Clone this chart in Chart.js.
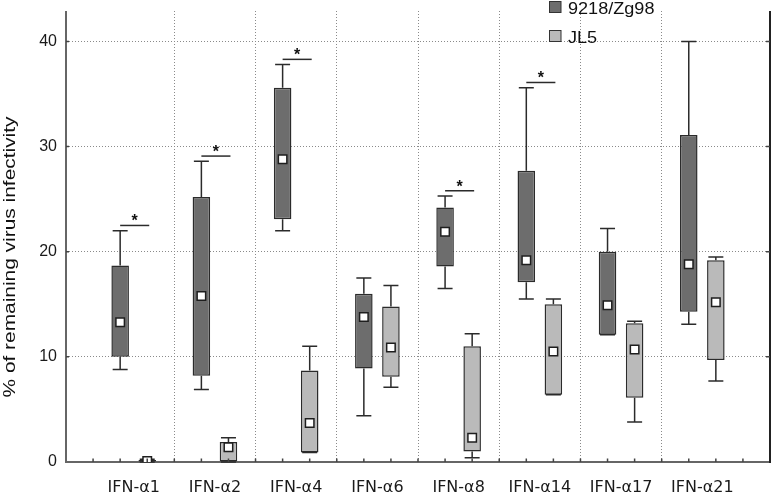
<!DOCTYPE html>
<html>
<head>
<meta charset="utf-8">
<script src="https://cdn.jsdelivr.net/npm/chart.js@4.4.1/dist/chart.umd.min.js"></script>
<style>
  html, body { margin: 0; padding: 0; background: #fff; }
  #wrap { width: 771px; height: 494px; }
</style>
</head>
<body>
<div id="wrap"><canvas id="boxChart" width="771" height="494"></canvas></div>
<script>
// Box plot data: % of remaining virus infectivity per IFN-alpha subtype

const categories = ['IFN-α1', 'IFN-α2', 'IFN-α4', 'IFN-α6', 'IFN-α8', 'IFN-α14', 'IFN-α17', 'IFN-α21'];

// 9218/Zg98
const zgMin  = [8.8, 6.9, 22.0, 4.4, 16.5, 15.5, 12.1, 13.1];
const zgQ1   = [10.0, 8.2, 23.1, 8.9, 18.6, 17.1, 12.1, 14.3];
const zgMean = [13.3, 15.8, 28.8, 13.8, 21.9, 19.2, 14.9, 18.8];
const zgQ3   = [18.7, 25.2, 35.6, 16.0, 24.2, 27.7, 20.0, 31.1];
const zgMax  = [22.0, 28.6, 37.8, 17.5, 25.3, 35.6, 22.2, 40.0];

// JL5
const jlMin  = [0, 0, 0.9, 7.1, 0.4, 6.4, 3.8, 7.7];
const jlQ1   = [0, 0, 0.9, 8.1, 1.0, 6.4, 6.1, 9.7];
const jlMean = [0.1, 1.4, 3.7, 10.9, 2.3, 10.5, 10.7, 15.2];
const jlQ3   = [0.2, 1.9, 8.7, 14.8, 11.0, 15.0, 13.2, 19.2];
const jlMax  = [0.25, 2.3, 11.0, 16.8, 12.2, 15.5, 13.4, 19.5];

// * = significant difference between the two strains
const significant = [true, true, true, false, true, true, false, false];

const yTicks = [0, 10, 20, 30, 40];
const seriesNames = ['9218/Zg98', 'JL5'];
const yTitle = '% of remaining virus infectivity';

const darkFill = '#6d6d6d';
const lightFill = '#bababa';
const lineCol = '#2b2b2b';

// each category takes 3 slots on the x axis: boundary, 9218/Zg98, JL5
const zgSlot = i => 3 * i + 2;
const jlSlot = i => 3 * i + 3;

let xTickValues = [];
categories.forEach((c, i) => { xTickValues.push(3 * i + 1, 3 * i + 2.5); });
xTickValues.push(3 * categories.length + 1);

const isGridSlot = v => v > 1 && v < 3 * categories.length + 1 && (v - 1) % 3 === 0;

const boxExtras = {
    id: 'boxExtras',
    beforeDatasetsDraw(chart) {
        const {ctx, chartArea, scales: {x, y}} = chart;
        ctx.save();

        // left and bottom axis lines
        ctx.strokeStyle = '#666';
        ctx.lineWidth = 2;
        ctx.beginPath();
        ctx.moveTo(chartArea.left, chartArea.top);
        ctx.lineTo(chartArea.left, chartArea.bottom);
        ctx.lineTo(chartArea.right, chartArea.bottom);
        ctx.stroke();

        // whiskers
        ctx.strokeStyle = lineCol;
        ctx.lineWidth = 1.5;
        const whisker = (slot, lo, q1, q3, hi) => {
            const px = x.getPixelForValue(slot);
            ctx.beginPath();
            ctx.moveTo(px, y.getPixelForValue(hi));
            ctx.lineTo(px, y.getPixelForValue(q3));
            ctx.moveTo(px, y.getPixelForValue(q1));
            ctx.lineTo(px, y.getPixelForValue(lo));
            ctx.moveTo(px - 7.5, y.getPixelForValue(hi));
            ctx.lineTo(px + 7.5, y.getPixelForValue(hi));
            ctx.moveTo(px - 7.5, y.getPixelForValue(lo));
            ctx.lineTo(px + 7.5, y.getPixelForValue(lo));
            ctx.stroke();
        };
        categories.forEach((c, i) => {
            whisker(zgSlot(i), zgMin[i], zgQ1[i], zgQ3[i], zgMax[i]);
            whisker(jlSlot(i), jlMin[i], jlQ1[i], jlQ3[i], jlMax[i]);
        });
        ctx.restore();
    },
    afterDraw(chart) {
        const {ctx, chartArea, scales: {x, y}} = chart;
        ctx.save();

        // right frame line and inward tick marks
        ctx.strokeStyle = '#222';
        ctx.lineWidth = 2;
        ctx.beginPath();
        ctx.moveTo(chartArea.right, chartArea.top);
        ctx.lineTo(chartArea.right, chartArea.bottom + 1);
        ctx.stroke();
        ctx.lineWidth = 1.5;
        ctx.strokeStyle = '#444';
        ctx.beginPath();
        yTicks.slice(1).forEach(v => {
            const py = y.getPixelForValue(v);
            ctx.moveTo(chartArea.right - 4, py);
            ctx.lineTo(chartArea.right, py);
            ctx.moveTo(chartArea.left, py);
            ctx.lineTo(chartArea.left + 3, py);
        });
        for (let s = 1; s <= 3 * categories.length + 1; s++) {
            const px = x.getPixelForValue(s);
            ctx.moveTo(px, chartArea.bottom);
            ctx.lineTo(px, chartArea.bottom - 3.5);
        }
        ctx.stroke();

        // significance brackets
        ctx.strokeStyle = lineCol;
        ctx.fillStyle = '#111';
        ctx.lineWidth = 1.5;
        ctx.font = 'bold 16px "Liberation Sans", Arial, sans-serif';
        ctx.textAlign = 'center';
        ctx.textBaseline = 'alphabetic';
        significant.forEach((sig, i) => {
            if (!sig) return;
            const py = y.getPixelForValue(zgMax[i] + 0.5);
            const x1 = x.getPixelForValue(zgSlot(i));
            const x2 = x.getPixelForValue(jlSlot(i)) + 2;
            ctx.beginPath();
            ctx.moveTo(x1, py);
            ctx.lineTo(x2, py);
            ctx.stroke();
            ctx.fillText('*', (x1 + x2) / 2, py + 1);
        });

        // legend
        const fills = [darkFill, lightFill];
        ctx.font = '16px "Liberation Sans", Arial, sans-serif';
        ctx.textAlign = 'left';
        seriesNames.forEach((name, k) => {
            const top = 1.5 + k * 29;
            ctx.fillStyle = fills[k];
            ctx.fillRect(549.5, top, 11.5, 11);
            ctx.strokeStyle = '#333';
            ctx.lineWidth = 1;
            ctx.strokeRect(549.5, top, 11.5, 11);
            ctx.fillStyle = '#111';
            ctx.save();
            ctx.translate(568, top + 12);
            ctx.scale(1.13, 1);
            ctx.fillText(name, 0, 0);
            ctx.restore();
        });

        // y axis title
        ctx.save();
        ctx.translate(10, 257);
        ctx.rotate(-Math.PI / 2);
        ctx.font = '17px "Liberation Sans", Arial, sans-serif';
        const w = ctx.measureText(yTitle).width;
        ctx.scale(281 / w, 1);
        ctx.textAlign = 'center';
        ctx.textBaseline = 'middle';
        ctx.fillStyle = '#111';
        ctx.fillText(yTitle, 0, 0);
        ctx.restore();

        ctx.restore();
    }
};

const ctx = document.getElementById('boxChart').getContext('2d');
const myChart = new Chart(ctx, {
    type: 'bar',
    data: {
        datasets: [
            {
                type: 'scatter',
                label: 'mean',
                data: categories.map((c, i) => ({x: zgSlot(i), y: zgMean[i]}))
                    .concat(categories.map((c, i) => ({x: jlSlot(i), y: jlMean[i]}))),
                pointStyle: 'rect',
                radius: 6,
                backgroundColor: '#fff',
                borderColor: '#1e1e1e',
                borderWidth: 1.5,
                order: 0
            },
            {
                label: seriesNames[0],
                data: categories.map((c, i) => ({x: zgSlot(i), y: [zgQ1[i], zgQ3[i]]})),
                backgroundColor: darkFill,
                borderColor: lineCol,
                borderWidth: 1.5,
                borderSkipped: false,
                grouped: false,
                barPercentage: 0.81,
                order: 2
            },
            {
                label: seriesNames[1],
                data: categories.map((c, i) => ({x: jlSlot(i), y: [jlQ1[i], jlQ3[i]]})),
                backgroundColor: lightFill,
                borderColor: lineCol,
                borderWidth: 1.5,
                borderSkipped: false,
                grouped: false,
                barPercentage: 0.81,
                order: 2
            }
        ]
    },
    options: {
        responsive: false,
        animation: false,
        layout: { autoPadding: false, padding: { top: 11, right: 1, left: 0, bottom: 0 } },
        plugins: {
            legend: { display: false },
            tooltip: { enabled: false }
        },
        scales: {
            x: {
                type: 'linear',
                min: 0,
                max: 3 * categories.length + 2,
                offset: false,
                afterBuildTicks: axis => { axis.ticks = xTickValues.map(v => ({value: v})); },
                afterFit: scale => {
                    scale.height = 32;
                    scale.paddingLeft = 0;
                    scale.paddingRight = 0;
                },
                grid: {
                    offset: false,
                    drawTicks: false,
                    lineWidth: 1,
                    color: c => (c.tick && isGridSlot(c.tick.value)) ? '#8a8a8a' : 'rgba(0,0,0,0)'
                },
                border: { display: false, dash: [1, 2] },
                ticks: {
                    autoSkip: false,
                    maxRotation: 0,
                    padding: 16,
                    color: '#1a1a1a',
                    font: { family: '"DejaVu Sans", sans-serif', size: 16 },
                    callback: v => {
                        const i = (v - 2.5) / 3;
                        return Number.isInteger(i) ? categories[i] : '';
                    }
                }
            },
            y: {
                type: 'linear',
                min: 0,
                max: 42.9,
                afterBuildTicks: axis => { axis.ticks = yTicks.map(v => ({value: v})); },
                afterFit: scale => {
                    scale.width = 66;
                    scale.paddingTop = 0;
                    scale.paddingBottom = 0;
                },
                grid: {
                    drawTicks: false,
                    lineWidth: 1,
                    color: c => (c.tick && c.tick.value > 0) ? '#8a8a8a' : 'rgba(0,0,0,0)'
                },
                border: { display: false, dash: [1, 2] },
                ticks: {
                    padding: 9,
                    color: '#1a1a1a',
                    font: { family: '"Liberation Sans", Arial, sans-serif', size: 16 }
                }
            }
        }
    },
    plugins: [boxExtras]
});
</script>
</body>
</html>
